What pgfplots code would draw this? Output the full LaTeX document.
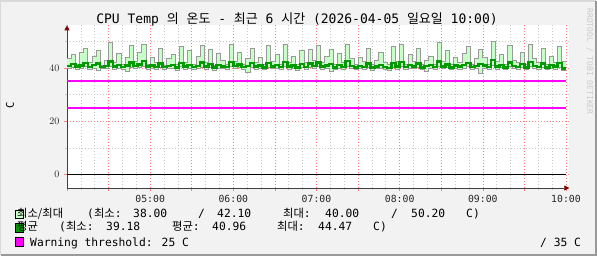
\documentclass[border=0pt]{standalone}
\usepackage{pgfplots}
\pgfplotsset{compat=1.18}
\usepackage{pgfplotstable}
\usetikzlibrary{arrows.meta}
\usepackage{fontspec}
\setmainfont{DejaVu Sans Mono}
\newfontfamily\kr{Noto Sans CJK KR}
\definecolor{bgc}{HTML}{F2F2F2}
\definecolor{mmfill}{HTML}{C8FFC8}
\definecolor{mmline}{HTML}{999999}
\definecolor{avgc}{HTML}{009900}
\definecolor{majg}{HTML}{FF8080}
\definecolor{ming}{HTML}{C8C8C8}
\definecolor{arrowc}{HTML}{800000}
\definecolor{mag}{rgb}{1,0,1}

\pgfplotstableread{
t     mx    av    mn
4.00  43.5  40.8  39.8
4.05  45.0  41.5  40.2
4.10  41.5  40.6  39.5
4.15  46.0  41.0  40.0
4.20  47.5  42.0  40.5
4.25  42.0  40.5  39.6
4.30  44.5  41.2  40.1
4.35  46.5  41.8  39.2
4.40  41.0  40.4  39.8
4.45  43.0  40.9  40.0
4.50  49.5  42.5  40.8
4.55  42.0  40.7  39.7
4.60  45.5  41.3  40.0
4.65  41.5  40.5  39.5
4.70  44.0  41.0  38.8
4.75  48.5  42.2  40.2
4.80  42.5  40.8  39.8
4.85  46.0  41.4  40.3
4.90  49.0  42.8  40.6
4.95  41.5  40.6  39.6
5.00  44.0  41.0  40.0
5.05  42.0  40.5  39.4
5.10  47.5  41.8  40.3
5.15  41.0  40.4  39.5
5.20  43.5  40.9  39.9
5.25  45.0  41.3  40.1
5.30  41.5  40.3  39.0
5.35  48.0  42.0  40.5
5.40  42.0  40.6  39.7
5.45  46.5  41.2  40.0
5.50  41.5  40.4  39.5
5.55  44.5  40.9  39.9
5.60  48.5  42.1  40.4
5.65  42.0  40.6  39.6
5.70  47.0  41.5  40.2
5.75  41.0  40.3  39.3
5.80  45.5  41.1  40.0
5.85  43.0  40.7  39.8
5.90  41.5  40.4  39.5
5.95  49.0  42.3  40.6
6.00  42.5  40.8  39.9
6.05  46.0  41.4  40.2
6.10  41.5  40.5  39.6
6.15  43.5  40.9  38.5
6.20  47.5  41.9  40.3
6.25  42.0  40.6  39.7
6.30  44.0  41.0  40.0
6.35  41.5  40.3  39.4
6.40  48.5  42.0  40.4
6.45  42.5  40.7  39.8
6.50  45.0  41.2  40.1
6.55  41.5  40.4  39.5
6.60  49.0  42.4  40.7
6.65  42.0  40.6  39.6
6.70  44.5  41.0  40.0
6.75  41.5  40.2  39.2
6.80  46.5  41.5  40.2
6.85  42.0  40.5  39.6
6.90  47.0  41.7  40.3
6.95  43.0  40.8  39.9
7.00  48.5  42.2  40.6
7.05  42.0  40.6  39.7
7.10  44.5  41.0  40.0
7.15  47.0  41.6  38.6
7.20  41.5  40.3  39.4
7.25  45.5  41.3  40.1
7.30  42.0  40.5  39.6
7.35  49.0  42.6  40.8
7.40  43.5  40.9  39.9
7.45  41.5  40.3  39.4
7.50  44.0  40.8  39.9
7.55  42.5  40.5  39.6
7.60  47.5  41.7  40.3
7.65  41.5  40.2  39.3
7.70  43.0  40.7  39.8
7.75  46.0  41.3  40.0
7.80  42.0  40.5  39.6
7.85  41.5  40.1  39.2
7.90  48.0  41.9  40.4
7.95  42.5  40.6  39.7
8.00  49.0  42.3  40.6
8.05  41.5  40.4  39.5
8.10  45.0  41.2  40.0
8.15  42.5  40.7  39.8
8.20  47.5  41.8  40.3
8.25  41.5  40.3  39.4
8.30  43.0  40.8  38.9
8.35  44.5  41.1  40.0
8.40  41.5  40.4  39.5
8.45  49.5  42.5  40.8
8.50  42.5  40.7  39.8
8.55  46.5  41.4  40.2
8.60  41.5  40.3  39.4
8.65  44.0  41.0  40.0
8.70  42.0  40.6  39.7
8.75  45.5  41.2  40.1
8.80  48.0  42.0  40.5
8.85  41.5  40.4  39.5
8.90  43.5  40.9  39.9
8.95  47.0  41.6  38.0
9.00  44.0  41.0  40.0
9.05  41.5  40.4  39.5
9.10  50.2  43.0  41.0
9.15  42.5  40.7  39.7
9.20  45.0  41.3  40.2
9.25  41.5  40.3  39.4
9.30  48.5  42.1  40.5
9.35  43.0  40.8  39.8
9.40  42.0  40.5  39.6
9.45  46.0  41.5  40.3
9.50  41.5  40.3  39.4
9.55  49.0  42.4  40.7
9.60  43.5  40.9  39.9
9.65  42.0  40.5  39.6
9.70  47.5  41.8  40.4
9.75  41.5  40.3  39.4
9.80  44.5  41.1  40.0
9.85  42.0  40.6  39.7
9.90  48.0  41.9  40.3
9.95  42.5  39.8  39.2
10.00 42.5  39.8  39.2
}\datatab

\pgfplotsset{
  rrdgeom/.style={
    at={(67pt,68pt)}, anchor=south west,
    scale only axis, width=502.3pt, height=162.7pt,
    xmin=4, xmax=10.04, ymin=-5, ymax=56.1,
  }
}

\begin{document}
\begin{tikzpicture}[x=1pt,y=1pt]
\fill[bgc] (0,0) rectangle (597,256);
\useasboundingbox (0,0) rectangle (597,256);
\draw[white!85!black, line width=1.5pt] (0,1) -- (0,255) -- (596,255);
\draw[black!40, line width=2pt] (1,1) -- (596,1) -- (596,255);
% axis 1: background, grid, ticks, axis lines
\begin{axis}[
  rrdgeom,
  axis background/.style={fill=white},
  axis x line=bottom, axis y line=left,
  x axis line style={black!75, line width=0.7pt, -{Triangle[length=5pt,width=5pt,color=arrowc]}},
  y axis line style={black!75, line width=0.7pt, -{Triangle[length=5pt,width=5pt,color=arrowc]}},
  xtick={4,4.5,5,5.5,6,6.5,7,7.5,8,8.5,9,9.5,10},
  xticklabels={{},{},05:00,{},06:00,{},07:00,{},08:00,{},09:00,{},10:00},
  minor x tick num=2,
  ytick={0,20,40},
  minor ytick={10,30,50},
  grid=both,
  major grid style={majg, line width=0.6pt, dash pattern=on 1pt off 2pt},
  minor grid style={ming, line width=0.6pt, dash pattern=on 1pt off 2pt},
  tick align=outside,
  major tick length=3pt, minor tick length=2pt,
  major tick style={majg, line width=0.6pt},
  minor tick style={ming, line width=0.6pt},
  tick label style={font=\fontsize{9.8}{10}\selectfont, black!85},
  xticklabel style={yshift=-1pt},
  yticklabel style={xshift=-1pt},
]
\addplot[draw=none] coordinates {(4,0) (10,0)};
\end{axis}
% axis 2: min/max area (stacked)
\begin{axis}[rrdgeom, hide axis, stack plots=y]
\addplot[draw=none, const plot] table[x=t,y=mn] {\datatab};
\addplot[fill=mmfill, draw=none, const plot] table[x=t,y expr=\thisrow{mx}-\thisrow{mn}] {\datatab} \closedcycle;
\end{axis}
% axis 3: lines
\begin{axis}[rrdgeom, hide axis]
\addplot[draw=mag, line width=1.4pt] coordinates {(4,35.15) (10,35.15)};
\addplot[draw=mag, line width=1.4pt] coordinates {(4,25) (10,25)};
\addplot[black, line width=1pt] coordinates {(4,0) (10,0)};
\addplot[const plot, mmline, line width=0.8pt] table[x=t,y=mx] {\datatab};
\addplot[const plot, mmline, line width=0.8pt] table[x=t,y=mn] {\datatab};
\addplot[const plot, avgc, line width=2.4pt] table[x=t,y=av] {\datatab};
\end{axis}
% y label, title, watermark
\node[rotate=90, font=\fontsize{10.5}{11}\selectfont] at (10,151) {C};
\node[anchor=base, font=\fontsize{13}{14}\selectfont] at (297,232) {CPU Temp {\kr 의} {\kr 온도} - {\kr 최근} 6 {\kr 시간} (2026-04-05 {\kr 일요일} 10:00)};
\node[rotate=-90, anchor=base west, font=\fontsize{8}{9}\selectfont, black!20] at (587,251) {RRDTOOL / TOBI OETIKER};
% legend
\begin{scope}[font=\fontsize{11.3}{12}\selectfont]
\draw[fill=mmfill, line width=0.8pt] (15,37.7) rectangle (23.3,46);
\draw[fill=avgc, line width=0.8pt] (15,23.3) rectangle (23.3,32.7);
\draw[fill=mag, line width=0.8pt] (15,9.3) rectangle (23.3,18.3);
\node[anchor=base west, inner sep=0] at (17,38.7) {\kr 최소/최대};
\node[anchor=base west, inner sep=0] at (87,38.7) {({\kr 최소}:};
\node[anchor=base west, inner sep=0] at (133,38.7) {38.00};
\node[anchor=base west, inner sep=0] at (198,38.7) {/};
\node[anchor=base west, inner sep=0] at (217,38.7) {42.10};
\node[anchor=base west, inner sep=0] at (283,38.7) {{\kr 최대}:};
\node[anchor=base west, inner sep=0] at (325,38.7) {40.00};
\node[anchor=base west, inner sep=0] at (391,38.7) {/};
\node[anchor=base west, inner sep=0] at (411,38.7) {50.20};
\node[anchor=base west, inner sep=0] at (466,38.7) {C)};
\node[anchor=base west, inner sep=0] at (17,25.3) {\kr 평균};
\node[anchor=base west, inner sep=0] at (59,25.3) {({\kr 최소}:};
\node[anchor=base west, inner sep=0] at (106,25.3) {39.18};
\node[anchor=base west, inner sep=0] at (172,25.3) {{\kr 평균}:};
\node[anchor=base west, inner sep=0] at (212,25.3) {40.96};
\node[anchor=base west, inner sep=0] at (277,25.3) {{\kr 최대}:};
\node[anchor=base west, inner sep=0] at (318,25.3) {44.47};
\node[anchor=base west, inner sep=0] at (373,25.3) {C)};
\node[anchor=base west, inner sep=0] at (30,9.7) {Warning threshold: 25 C};
\node[anchor=base west, inner sep=0] at (540,9.7) {/ 35 C};
\end{scope}
\end{tikzpicture}
\end{document}
